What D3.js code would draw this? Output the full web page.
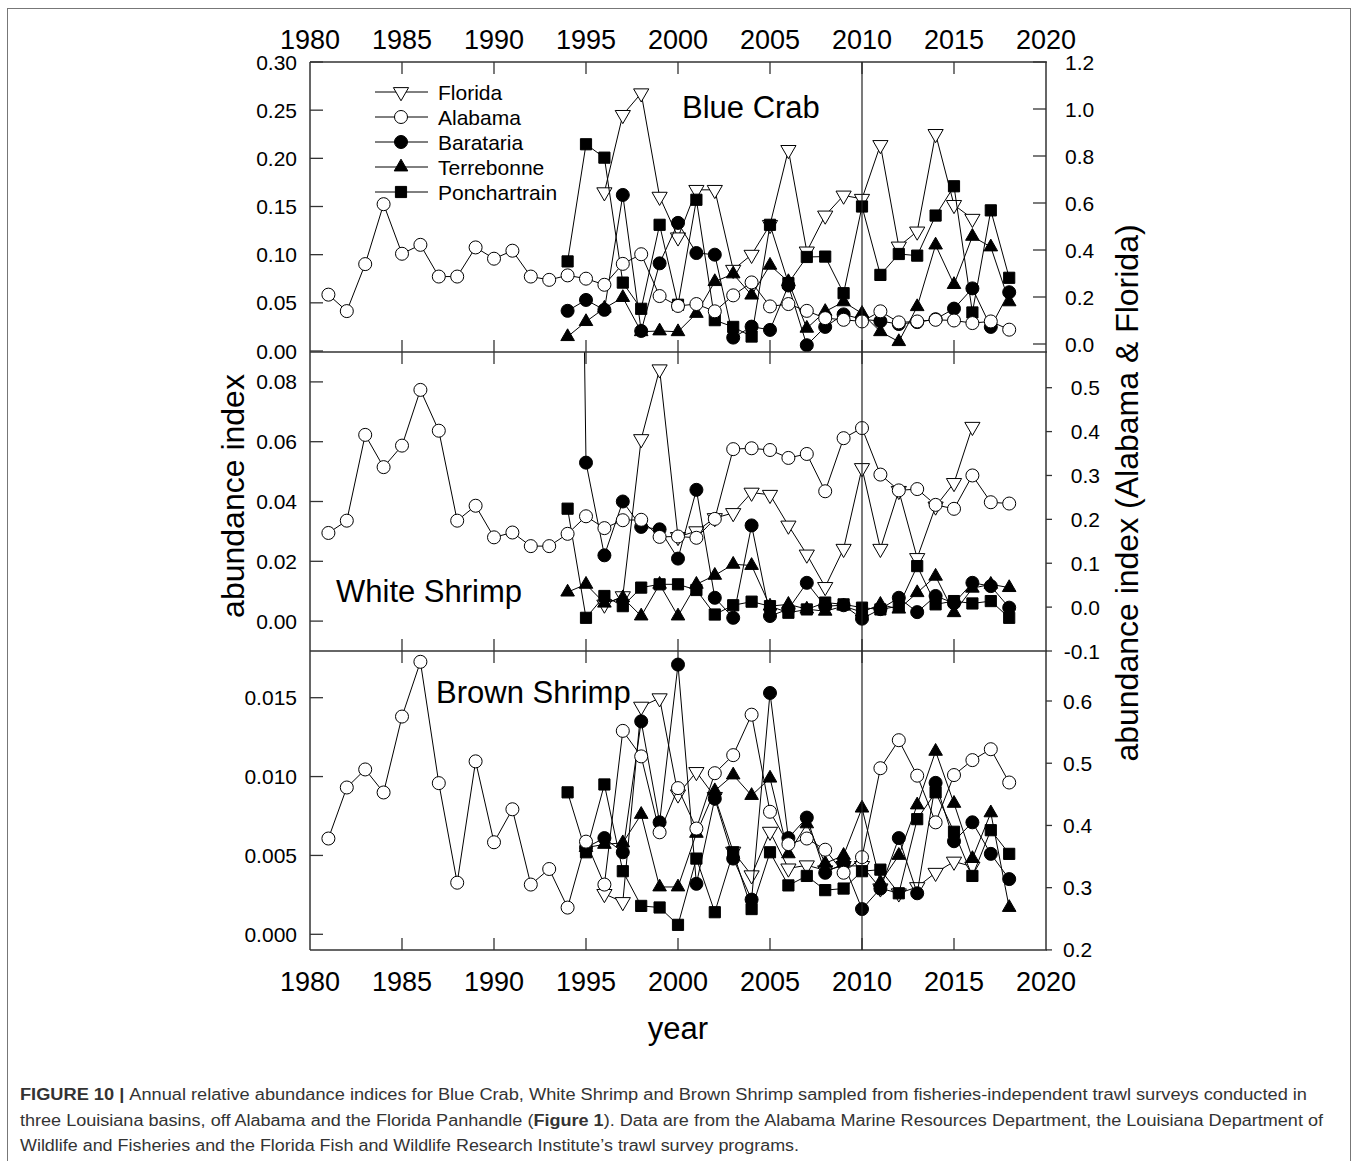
<!DOCTYPE html>
<html><head><meta charset="utf-8">
<script src="https://cdn.jsdelivr.net/npm/d3@7"></script>
<style>
body{margin:0;background:#fff}
svg{display:block}
text{font-family:"Liberation Sans",Arial,Helvetica,sans-serif;fill:#000}
</style>
</head><body>
<svg id="c" width="1358" height="1161"></svg>
<script>
// ---------- DATA ----------
const yearTicks = [1980,1985,1990,1995,2000,2005,2010,2015,2020];
const yearsAlabama = [1981,1982,1983,1984,1985,1986,1987,1988,1989,1990,1991,1992,1993,1994,1995,1996,1997,1998,1999,2000,2001,2002,2003,2004,2005,2006,2007,2008,2009,2010,2011,2012,2013,2014,2015,2016,2017,2018];
const yearsFlorida = [1996,1997,1998,1999,2000,2001,2002,2003,2004,2005,2006,2007,2008,2009,2010,2011,2012,2013,2014,2015,2016];
const yearsBasins = [1994,1995,1996,1997,1998,1999,2000,2001,2002,2003,2004,2005,2006,2007,2008,2009,2010,2011,2012,2013,2014,2015,2016,2017,2018];

// Blue Crab
const crabAlabama = [0.21,0.14,0.34,0.595,0.384,0.422,0.287,0.287,0.411,0.363,0.397,0.287,0.273,0.292,0.278,0.252,0.341,0.382,0.204,0.162,0.170,0.139,0.207,0.262,0.160,0.170,0.141,0.110,0.103,0.096,0.139,0.092,0.096,0.103,0.100,0.089,0.096,0.061];
const crabFlorida = [0.646,0.975,1.067,0.627,0.454,0.656,0.656,0.316,0.380,0.507,0.826,0.394,0.547,0.632,0.618,0.847,0.415,0.479,0.894,0.592,0.533];
const crabBarataria = [0.0417,0.053,0.0427,0.162,0.0208,0.091,0.133,0.1017,0.100,0.0139,0.0253,0.0219,0.068,0.006,0.025,0.038,0.033,0.031,0.028,0.030,0.033,0.044,0.065,0.025,0.061];
const crabTerrebonne = [0.0149,0.0305,0.0444,0.0555,0.020,0.0208,0.020,0.039,0.072,0.080,0.058,0.089,0.072,0.0236,0.041,0.051,0.039,0.020,0.0097,0.046,0.110,0.069,0.119,0.108,0.051];
const crabPonchartrain = [0.093,0.2146,0.2007,0.071,0.0438,0.131,0.048,0.157,0.032,0.025,0.015,0.131,0.0705,0.0976,0.098,0.060,0.150,0.079,0.1007,0.099,0.1406,0.171,0.040,0.146,0.076];

// White Shrimp
const whiteAlabama = [0.169,0.197,0.3925,0.319,0.368,0.495,0.402,0.197,0.231,0.159,0.170,0.139,0.139,0.167,0.207,0.180,0.198,0.199,0.160,0.161,0.158,0.201,0.360,0.362,0.358,0.340,0.349,0.264,0.385,0.408,0.302,0.266,0.269,0.233,0.224,0.300,0.239,0.236];
const whiteFlorida = [0.006,0.025,0.383,0.542,0.16,0.173,0.203,0.2145,0.261,0.256,0.186,0.120,0.046,0.133,0.317,0.133,0.265,0.112,0.2295,0.283,0.411];
const whiteBarataria = [0.5,0.053,0.022,0.040,0.0315,0.0307,0.0209,0.0439,0.0078,0.0011,0.032,0.0017,0.004,0.0128,0.005,0.0053,0.0008,0.004,0.0078,0.003,0.0084,0.006,0.0128,0.0117,0.0045];
const whiteTerrebonne = [0.0097,0.0123,0.006,0.0078,0.0017,0.0123,0.0017,0.0123,0.0153,0.019,0.0186,0.005,0.0056,0.004,0.0033,0.005,0.003,0.0056,0.004,0.0095,0.015,0.0028,0.011,0.0123,0.0112];
const whitePonchartrain = [0.0376,0.0011,0.0084,0.005,0.0112,0.0123,0.0123,0.0104,0.0022,0.0053,0.0065,0.005,0.0028,0.0039,0.0062,0.0056,0.0045,0.0039,0.005,0.0184,0.0056,0.0067,0.0059,0.0067,0.0011];

// Brown Shrimp
const brownAlabama = [0.379,0.461,0.490,0.453,0.575,0.663,0.468,0.308,0.503,0.373,0.426,0.305,0.330,0.268,0.374,0.305,0.552,0.511,0.389,0.460,0.395,0.484,0.513,0.578,0.422,0.370,0.379,0.361,0.324,0.349,0.492,0.537,0.480,0.405,0.481,0.505,0.5225,0.469];
const brownFlorida = [0.29,0.277,0.591,0.6045,0.45,0.486,0.446,0.358,0.320,0.390,0.331,0.336,0.328,0.335,0.335,0.299,0.291,0.301,0.324,0.342,0.334];
const brownBarataria = [null,0.0055,0.0061,0.0052,0.0135,0.0071,0.0171,0.0032,0.0086,0.0048,0.0022,0.0153,0.0061,0.0074,0.0039,0.0045,0.0016,0.0029,0.0061,0.0026,0.0096,0.0059,0.0071,0.0051,0.0035];
const brownTerrebonne = [null,0.0055,0.0057,0.0058,0.0076,0.0030,0.0030,0.0064,0.0091,0.0101,0.0088,0.0099,0.0051,0.007,0.0045,0.005,0.008,0.0033,0.005,0.0082,0.0116,0.0083,0.0048,0.0077,0.0017];
const brownPonchartrain = [0.009,0.0052,0.0095,0.004,0.0018,0.0017,0.0006,0.0048,0.0014,0.0052,0.0016,0.0052,0.0031,0.0037,0.0028,0.0029,0.004,0.0041,0.0026,0.0073,0.009,0.0065,0.0037,0.0066,0.0051];

// Axis ticks
const crabLeftTicks = [0,0.05,0.10,0.15,0.20,0.25,0.30];
const crabRightTicks = [0,0.2,0.4,0.6,0.8,1.0,1.2];
const whiteLeftTicks = [0,0.02,0.04,0.06,0.08];
const whiteRightTicks = [-0.1,0,0.1,0.2,0.3,0.4,0.5];
const brownLeftTicks = [0,0.005,0.010,0.015];
const brownRightTicks = [0.2,0.3,0.4,0.5,0.6];

const seriesNames = ["Florida","Alabama","Barataria","Terrebonne","Ponchartrain"];

// ---------- DRAW ----------
const svg = d3.select("#c");
const X0 = 310, X1 = 1046;
const x = d3.scaleLinear().domain([1980,2020]).range([X0,X1]);
const fmt = f => v => d3.format(f)(v).replace("\u2212","-");

const style = {
  Florida:{sym:"down",fill:"#fff"},
  Alabama:{sym:"circle",fill:"#fff"},
  Barataria:{sym:"circle",fill:"#000"},
  Terrebonne:{sym:"up",fill:"#000"},
  Ponchartrain:{sym:"square",fill:"#000"}
};
function symPath(kind){
  if(kind==="circle") return d3.symbol().type(d3.symbolCircle).size(133)();
  if(kind==="square") return d3.symbol().type(d3.symbolSquare).size(125)();
  return d3.symbol().type(d3.symbolTriangle).size(kind==="up"?80:100)();
}
function drawSym(g, kind, fill, cx, cy){
  g.append("path").attr("d", symPath(kind))
   .attr("transform", `translate(${cx},${cy})` + (kind==="down"?" rotate(180)":""))
   .attr("fill", fill).attr("stroke","#000").attr("stroke-width",1);
}

const panels = [
  {top:62, bottom:352,
   yL:d3.scaleLinear().domain([0,0.30]).range([351,62]),
   yR:d3.scaleLinear().domain([0,1.2]).range([344,62]),
   lt:crabLeftTicks, lf:".2f", rt:crabRightTicks, rf:".1f", rIn:true, rAnchor:"start", rx:1065,
   data:{Florida:crabFlorida, Alabama:crabAlabama, Barataria:crabBarataria, Terrebonne:crabTerrebonne, Ponchartrain:crabPonchartrain},
   title:"Blue Crab", tx:682, ty:118},
  {top:352, bottom:651,
   yL:d3.scaleLinear().domain([-0.01,0.09]).range([651,352]),
   yR:d3.scaleLinear().domain([-0.1,0.5]).range([651,387.7]),
   lt:whiteLeftTicks, lf:".2f", rt:whiteRightTicks, rf:".1f", rIn:false, rAnchor:"end", rx:1100,
   data:{Florida:whiteFlorida, Alabama:whiteAlabama, Barataria:whiteBarataria, Terrebonne:whiteTerrebonne, Ponchartrain:whitePonchartrain},
   title:"White Shrimp", tx:336, ty:602},
  {top:651, bottom:950,
   yL:d3.scaleLinear().domain([0,0.015]).range([934.3,697.7]),
   yR:d3.scaleLinear().domain([0.2,0.6]).range([949.9,701]),
   lt:brownLeftTicks, lf:".3f", rt:brownRightTicks, rf:".1f", rIn:false, rAnchor:"start", rx:1063,
   data:{Florida:brownFlorida, Alabama:brownAlabama, Barataria:brownBarataria, Terrebonne:brownTerrebonne, Ponchartrain:brownPonchartrain},
   title:"Brown Shrimp", tx:436, ty:703}
];
const yearsOf = {Florida:yearsFlorida, Alabama:yearsAlabama, Barataria:yearsBasins, Terrebonne:yearsBasins, Ponchartrain:yearsBasins};
const rightAxisSeries = {Florida:true, Alabama:true};
const drawOrder = ["Florida","Barataria","Terrebonne","Ponchartrain","Alabama"];

// outer border
svg.append("rect").attr("x",7.5).attr("y",8.5).attr("width",1343).attr("height",1200)
  .attr("fill","none").attr("stroke","#777").attr("stroke-width",1);

const defs = svg.append("defs");
panels.forEach((p,i)=>{
  defs.append("clipPath").attr("id","clip"+i).append("rect")
    .attr("x",X0).attr("y",p.top).attr("width",X1-X0).attr("height",p.bottom-p.top);
});

panels.forEach((p,i)=>{
  const g = svg.append("g");
  g.append("text").attr("x",p.tx).attr("y",p.ty).attr("font-size",31).text(p.title);
  yearTicks.slice(1,-1).forEach(yr=>{
    g.append("line").attr("x1",x(yr)).attr("x2",x(yr)).attr("y1",p.top).attr("y2",p.top+12).attr("stroke","#333").attr("stroke-width",1.3);
    g.append("line").attr("x1",x(yr)).attr("x2",x(yr)).attr("y1",p.bottom).attr("y2",p.bottom-12).attr("stroke","#333").attr("stroke-width",1.3);
  });
  p.lt.forEach(v=>{
    g.append("line").attr("x1",X0).attr("x2",X0+13).attr("y1",p.yL(v)).attr("y2",p.yL(v)).attr("stroke","#333").attr("stroke-width",1.3);
    g.append("text").attr("x",297).attr("y",p.yL(v)).attr("dy","0.36em").attr("text-anchor","end")
      .attr("font-size",21).text(fmt(p.lf)(v));
  });
  p.rt.forEach(v=>{
    const yy = p.yR(v);
    g.append("line").attr("x1",X1).attr("x2",p.rIn?X1-13:X1+6).attr("y1",yy).attr("y2",yy).attr("stroke","#333").attr("stroke-width",1.3);
    g.append("text").attr("x",p.rx).attr("y",yy).attr("dy","0.36em").attr("text-anchor",p.rAnchor)
      .attr("font-size",21).text(fmt(p.rf)(v));
  });
  const dg = svg.append("g").attr("clip-path",`url(#clip${i})`);
  drawOrder.forEach(name=>{
    const ys = yearsOf[name], vals = p.data[name];
    const sc = rightAxisSeries[name] ? p.yR : p.yL;
    const pts = ys.map((yr,k)=>({yr, v:vals[k]}));
    const line = d3.line().defined(d=>d.v!=null).x(d=>x(d.yr)).y(d=>sc(d.v));
    dg.append("path").attr("d",line(pts)).attr("fill","none").attr("stroke","#000").attr("stroke-width",1);
    pts.filter(d=>d.v!=null).forEach(d=>drawSym(dg, style[name].sym, style[name].fill, x(d.yr), sc(d.v)));
  });
});

// frame
const frame = svg.append("g").attr("stroke","#333").attr("stroke-width",1.5).attr("fill","none");
frame.append("line").attr("x1",X0).attr("x2",X0).attr("y1",62).attr("y2",950);
frame.append("line").attr("x1",X1).attr("x2",X1).attr("y1",62).attr("y2",950);
[62,352,651,950].forEach(yy=>frame.append("line").attr("x1",X0).attr("x2",X1+1).attr("y1",yy).attr("y2",yy));
svg.append("line").attr("x1",x(2010)).attr("x2",x(2010)).attr("y1",62).attr("y2",950).attr("stroke","#222").attr("stroke-width",1.2);

yearTicks.forEach(yr=>{
  svg.append("text").attr("x",x(yr)).attr("y",49).attr("text-anchor","middle").attr("font-size",27).text(yr);
  svg.append("text").attr("x",x(yr)).attr("y",991).attr("text-anchor","middle").attr("font-size",27).text(yr);
});
svg.append("text").attr("x",678).attr("y",1039).attr("text-anchor","middle").attr("font-size",31).text("year");

svg.append("text").attr("transform","translate(244,496) rotate(-90)").attr("text-anchor","middle").attr("font-size",32).text("abundance index");
svg.append("text").attr("transform","translate(1138,493) rotate(-90)").attr("text-anchor","middle").attr("font-size",32).text("abundance index (Alabama & Florida)");

// legend
const leg = svg.append("g");
seriesNames.forEach((name,k)=>{
  const yy = 92 + k*25;
  leg.append("line").attr("x1",375).attr("x2",428).attr("y1",yy).attr("y2",yy).attr("stroke","#000").attr("stroke-width",1);
  drawSym(leg, style[name].sym, style[name].fill, 401, yy);
  leg.append("text").attr("x",438).attr("y",yy).attr("dy","0.36em").attr("font-size",21).text(name);
});

// caption
const cap = svg.append("g").attr("font-size",16);
const c1 = cap.append("text").attr("x",20).attr("y",1100).attr("textLength",1287).attr("lengthAdjust","spacingAndGlyphs").style("fill","#333");
c1.append("tspan").attr("font-weight","bold").text("FIGURE 10 | ");
c1.append("tspan").text("Annual relative abundance indices for Blue Crab, White Shrimp and Brown Shrimp sampled from fisheries-independent trawl surveys conducted in");
const c2 = cap.append("text").attr("x",20).attr("y",1126).attr("textLength",1303).attr("lengthAdjust","spacingAndGlyphs").style("fill","#333");
c2.append("tspan").text("three Louisiana basins, off Alabama and the Florida Panhandle (");
c2.append("tspan").attr("font-weight","bold").text("Figure 1");
c2.append("tspan").text("). Data are from the Alabama Marine Resources Department, the Louisiana Department of");
cap.append("text").attr("x",20).attr("y",1151).attr("textLength",779).attr("lengthAdjust","spacingAndGlyphs").style("fill","#333")
  .text("Wildlife and Fisheries and the Florida Fish and Wildlife Research Institute\u2019s trawl survey programs.");
</script>
</body></html>
